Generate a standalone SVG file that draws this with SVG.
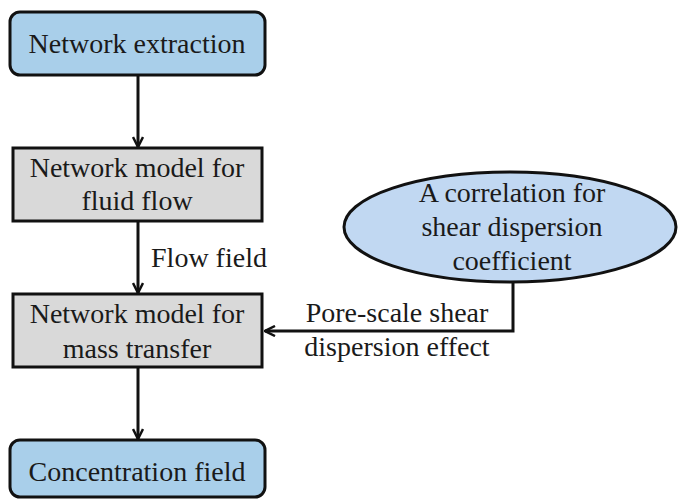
<svg xmlns="http://www.w3.org/2000/svg" width="678" height="502" viewBox="0 0 678 502">
  <defs>
    <marker id="arrow" viewBox="0 0 12 12" refX="11" refY="6" markerWidth="12" markerHeight="12" markerUnits="userSpaceOnUse" orient="auto">
      <path d="M1,1 L11,6 L1,11" fill="none" stroke="#111" stroke-width="2.5"/>
    </marker>
  </defs>

  <g id="connectors">
    <g fill="none" stroke="#111" stroke-width="3">
      <line x1="138" y1="76" x2="138" y2="147" marker-end="url(#arrow)"/>
      <line x1="138" y1="222" x2="138" y2="293" marker-end="url(#arrow)"/>
      <line x1="138" y1="368" x2="138" y2="439" marker-end="url(#arrow)"/>
      <polyline points="513,282 513,331 265,331" marker-end="url(#arrow)"/>
    </g>
    <g font-family="Liberation Serif" font-size="28" text-anchor="middle" fill="#1a1a1a">
      <text x="209" y="267">Flow field</text>
      <text x="397" y="322">Pore-scale shear</text>
      <text x="397" y="356">dispersion effect</text>
    </g>
  </g>

  <g id="network-extraction">
    <rect x="10" y="12" width="255" height="63" rx="10" fill="#a9cfea" stroke="#111" stroke-width="3"/>
    <text x="137" y="53" font-family="Liberation Serif" font-size="28" text-anchor="middle" fill="#1a1a1a">Network extraction</text>
  </g>

  <g id="fluid-flow-model">
    <rect x="13" y="148" width="249" height="73" fill="#d9d9d9" stroke="#111" stroke-width="3"/>
    <g font-family="Liberation Serif" font-size="28" text-anchor="middle" fill="#1a1a1a">
      <text x="137" y="177">Network model for</text>
      <text x="137" y="210">fluid flow</text>
    </g>
  </g>

  <g id="mass-transfer-model">
    <rect x="13" y="294" width="249" height="73" fill="#d9d9d9" stroke="#111" stroke-width="3"/>
    <g font-family="Liberation Serif" font-size="28" text-anchor="middle" fill="#1a1a1a">
      <text x="137" y="323">Network model for</text>
      <text x="137" y="358">mass transfer</text>
    </g>
  </g>

  <g id="concentration-field">
    <rect x="10" y="440" width="255" height="57" rx="10" fill="#a9cfea" stroke="#111" stroke-width="3"/>
    <text x="137" y="481" font-family="Liberation Serif" font-size="28" text-anchor="middle" fill="#1a1a1a">Concentration field</text>
  </g>

  <g id="dispersion-correlation">
    <ellipse cx="510" cy="227" rx="166" ry="55" fill="#c1d8f2" stroke="#111" stroke-width="3"/>
    <g font-family="Liberation Serif" font-size="28" text-anchor="middle" fill="#1a1a1a">
      <text x="512" y="202">A correlation for</text>
      <text x="512" y="236">shear dispersion</text>
      <text x="512" y="270">coefficient</text>
    </g>
  </g>
</svg>
